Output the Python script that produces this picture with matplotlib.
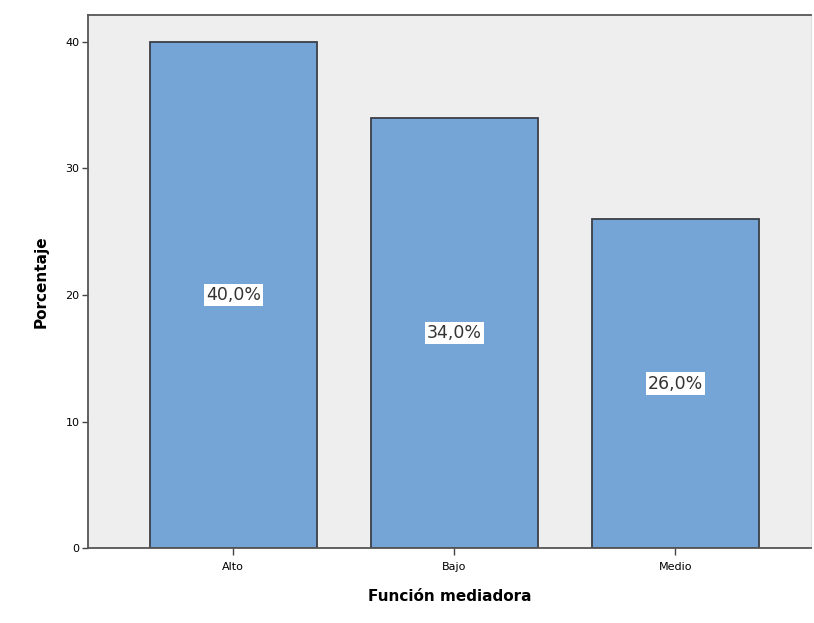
import numpy as np
import matplotlib.pyplot as plt

# datos
categorias = ['Alto', 'Bajo', 'Medio']
porcentajes = [40.0, 34.0, 26.0]
yticks = [0, 10, 20, 30, 40]

fig = plt.figure(figsize=(8.14, 6.23), dpi=100)
ax = fig.add_axes([0.108, 0.120, 0.888, 0.856])
ax.set_facecolor('#eeeeee')

x = np.arange(len(categorias))
ax.bar(x, porcentajes, width=0.755, color='#74a5d6', edgecolor='#3a3f47', linewidth=1.3, zorder=2)

for xi, p in zip(x, porcentajes):
    ax.text(xi, p / 2, ('%.1f%%' % p).replace('.', ','), ha='center', va='center', fontsize=12.5,
            color='#333333', bbox=dict(facecolor='white', edgecolor='none', pad=1.5), zorder=3)

ax.set_xlim(-0.658, 2.613)
ax.set_ylim(0, 42.1)
ax.set_xticks(x)
ax.set_xticklabels(categorias, fontsize=8)
ax.set_yticks(yticks)
ax.set_yticklabels([str(t) for t in yticks], fontsize=8)
ax.tick_params(axis='x', length=5, width=1, color='#444444', pad=5)
ax.tick_params(axis='y', length=4, width=1, color='#444444', pad=2)

for s in ['left', 'bottom', 'top']:
    ax.spines[s].set_color('#555555')
    ax.spines[s].set_linewidth(1.3)
ax.spines['right'].set_color('#dddddd')

ax.set_xlabel('Función mediadora', fontsize=11, fontweight='bold', labelpad=12)
ax.set_ylabel('Porcentaje', fontsize=11, fontweight='bold', labelpad=12)

plt.savefig('out.png', dpi=100)
